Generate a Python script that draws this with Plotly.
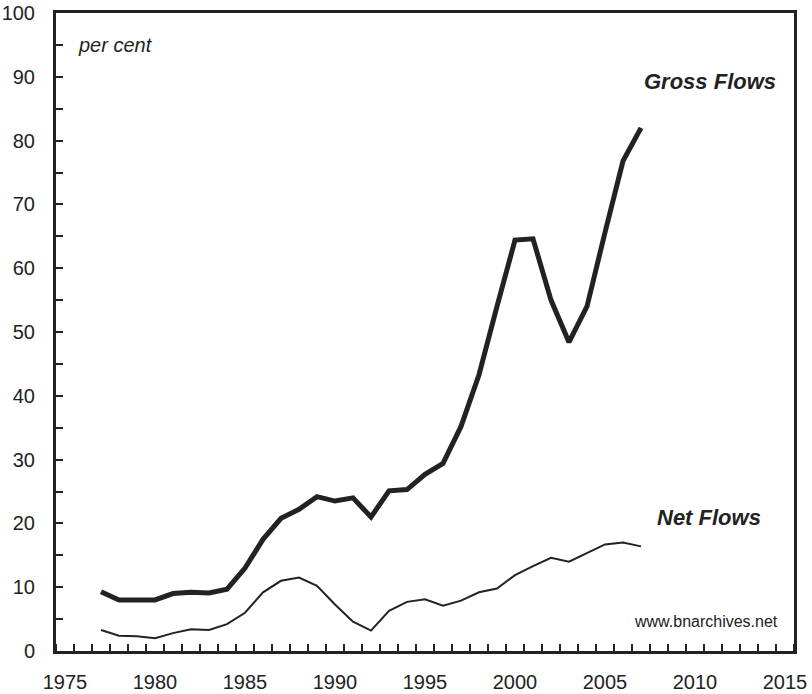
import plotly.graph_objects as go

# years and series (per cent)
years = list(range(1977, 2008))
gross_flows = [9.3, 8.0, 8.0, 8.0, 9.0, 9.2, 9.1, 9.7, 13.0, 17.5,
               20.8, 22.2, 24.2, 23.5, 24.0, 21.0, 25.1, 25.3, 27.7, 29.4,
               35.2, 43.3, 54.0, 64.4, 64.6, 55.0, 48.4, 54.0, 65.6, 76.8, 82.0]
net_flows = [3.3, 2.4, 2.3, 2.0, 2.8, 3.4, 3.3, 4.2, 6.0, 9.2,
             11.0, 11.5, 10.2, 7.3, 4.6, 3.2, 6.3, 7.7, 8.1, 7.1,
             7.9, 9.2, 9.8, 11.9, 13.3, 14.6, 14.0, 15.3, 16.7, 17.0, 16.4]
year_labels = [1975, 1980, 1985, 1990, 1995, 2000, 2005, 2010, 2015]

ink = "#222222"

fig = go.Figure()
fig.add_trace(go.Scatter(x=years, y=gross_flows, mode="lines",
                         line=dict(color=ink, width=5), name="Gross Flows"))
fig.add_trace(go.Scatter(x=years, y=net_flows, mode="lines",
                         line=dict(color=ink, width=2), name="Net Flows"))

fig.update_layout(
    width=812, height=694,
    paper_bgcolor="white", plot_bgcolor="white",
    showlegend=False,
    margin=dict(l=56, r=18, t=13, b=43),
    font=dict(family="Liberation Sans, Arial, sans-serif", size=20, color=ink),
)

# years sit in the middle of each interval, tick marks on the boundaries
fig.update_xaxes(
    range=[1974.5, 2015.5], tickvals=year_labels, automargin=False,
    showgrid=False, zeroline=False,
    showline=True, linewidth=3, linecolor=ink, mirror=True,
    ticks="",
    minor=dict(tick0=1974.5, dtick=1, ticks="inside", ticklen=7, tickwidth=2,
               tickcolor=ink, showgrid=False),
    ticklabelstandoff=11,
)
fig.update_yaxes(
    range=[0, 100], dtick=10, automargin=False,
    showgrid=False, zeroline=False,
    showline=True, linewidth=3, linecolor=ink, mirror=True,
    ticks="inside", ticklen=7, tickwidth=2, tickcolor=ink,
    minor=dict(dtick=5, ticks="inside", ticklen=7, tickwidth=2, tickcolor=ink),
    ticklabelstandoff=14,
)

fig.add_annotation(x=1975.6, y=95, text="<i>per cent</i>", showarrow=False,
                   xanchor="left", yanchor="middle", font=dict(size=20))
fig.add_annotation(x=2014.6, y=89.2, text="<b><i>Gross Flows</i></b>", showarrow=False,
                   xanchor="right", yanchor="middle", font=dict(size=22))
fig.add_annotation(x=2013.8, y=21.0, text="<b><i>Net Flows</i></b>", showarrow=False,
                   xanchor="right", yanchor="middle", font=dict(size=22))
fig.add_annotation(x=2014.7, y=4.6, text="www.bnarchives.net", showarrow=False,
                   xanchor="right", yanchor="middle", font=dict(size=16))

# drop the default page margin so the figure sits at the window corner
fig.write_html("out.html", config={"displayModeBar": False},
               post_script="document.body.style.margin='0';")
